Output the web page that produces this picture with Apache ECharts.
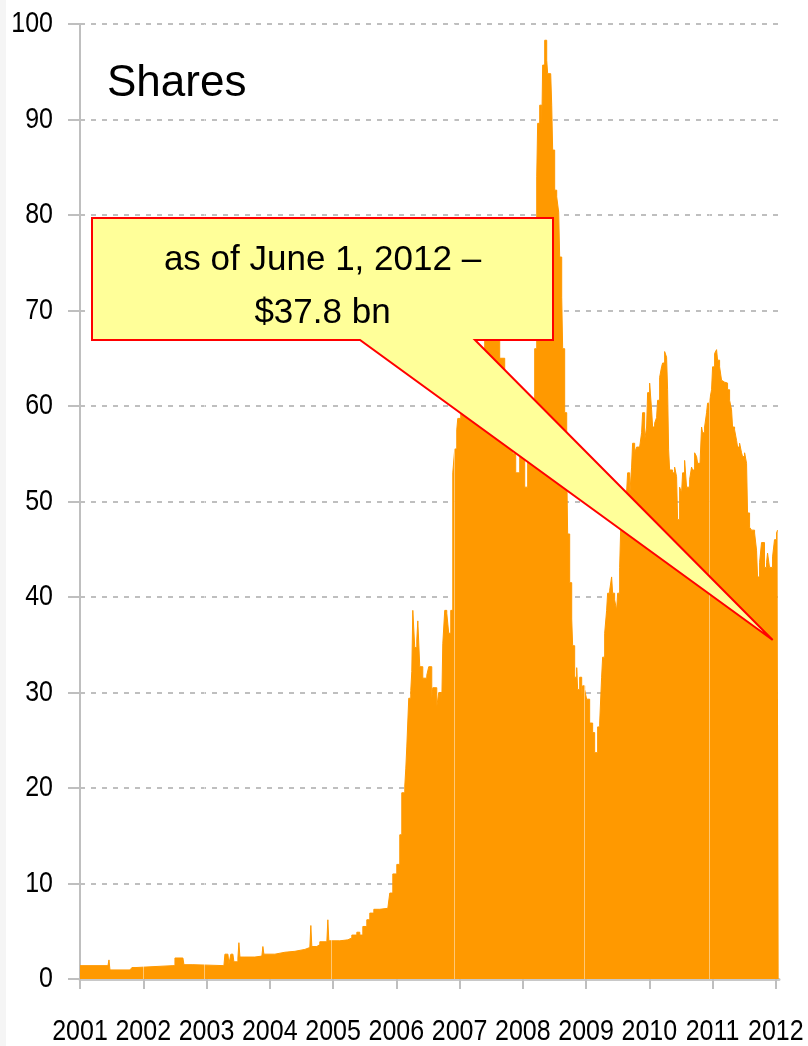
<!DOCTYPE html>
<html>
<head>
<meta charset="utf-8">
<script src="https://cdn.jsdelivr.net/npm/echarts@6/dist/echarts.min.js"></script>
<style>
html,body{margin:0;padding:0;background:#fff;}
#c{width:808px;height:1046px;}
</style>
</head>
<body>
<div id="c"></div>
<script>
// ---- data (decimal year, value in US$ bn) ----
const dates = [
2001.000,2001.442,2001.458,2001.474,2001.790,2001.821,2001.885,2002.469,2002.501,2002.627,
2002.643,2002.785,2002.801,2003.275,2003.291,2003.338,2003.354,2003.385,2003.417,2003.433,
2003.496,2003.512,2003.528,2003.607,2003.765,2003.875,2003.891,2003.907,2004.081,2004.239,
2004.397,2004.555,2004.633,2004.649,2004.665,2004.744,2004.791,2004.902,2004.918,2004.934,
2005.107,2005.234,2005.297,2005.376,2005.423,2005.471,2005.534,2005.581,2005.645,2005.739,
2005.866,2005.897,2005.945,2006.008,2006.055,2006.087,2006.134,2006.150,2006.166,2006.197,
2006.229,2006.245,2006.261,2006.292,2006.324,2006.340,2006.371,2006.419,2006.482,2006.513,
2006.561,2006.577,2006.640,2006.671,2006.719,2006.735,2006.766,2006.798,2006.829,2006.861,
2006.893,2006.924,2006.956,2006.972,2007.019,2007.082,2007.161,2007.288,2007.398,2007.477,
2007.556,2007.635,2007.714,2007.793,2007.840,2007.888,2007.951,2008.030,2008.077,2008.141,
2008.188,2008.220,2008.235,2008.267,2008.299,2008.314,2008.346,2008.378,2008.393,2008.441,
2008.457,2008.472,2008.504,2008.536,2008.567,2008.583,2008.615,2008.630,2008.662,2008.694,
2008.709,2008.741,2008.773,2008.788,2008.820,2008.852,2008.867,2008.899,2008.931,2008.946,
2008.978,2009.009,2009.057,2009.104,2009.136,2009.183,2009.215,2009.246,2009.262,2009.294,
2009.325,2009.341,2009.373,2009.404,2009.420,2009.452,2009.483,2009.499,2009.531,2009.547,
2009.594,2009.641,2009.657,2009.689,2009.720,2009.736,2009.768,2009.799,2009.847,2009.878,
2009.894,2009.926,2009.957,2009.973,2010.005,2010.036,2010.052,2010.084,2010.115,2010.131,
2010.163,2010.194,2010.210,2010.242,2010.273,2010.289,2010.305,2010.321,2010.368,2010.400,
2010.431,2010.447,2010.479,2010.510,2010.526,2010.558,2010.589,2010.605,2010.637,2010.668,
2010.684,2010.716,2010.747,2010.763,2010.795,2010.826,2010.842,2010.874,2010.905,2010.921,
2010.953,2010.984,2011.000,2011.032,2011.063,2011.079,2011.111,2011.142,2011.158,2011.190,
2011.221,2011.237,2011.269,2011.300,2011.316,2011.348,2011.379,2011.395,2011.427,2011.458,
2011.474,2011.506,2011.537,2011.553,2011.585,2011.616,2011.632,2011.664,2011.695,2011.711,
2011.743,2011.774,2011.790,2011.821,2011.853,2011.869,2011.900,2011.948,2011.979,2012.011,
2012.027,2012.045
];
const shares = [
1.4,1.4,2.0,0.95,0.95,1.2,1.4,1.4,2.2,2.2,
1.5,1.7,1.4,1.4,2.6,2.6,1.6,2.6,2.7,1.8,
2.2,3.8,2.3,2.3,2.4,2.5,3.4,2.6,2.8,2.9,
3.1,3.3,3.3,5.6,3.4,3.6,3.9,4.0,6.2,4.0,
4.1,4.3,4.6,4.9,4.6,5.5,6.2,6.9,7.3,7.4,
7.3,9.0,11.0,12.0,15.1,19.5,20.2,22.0,24.3,29.4,
30.2,32.2,38.6,34.7,35.5,37.5,32.7,31.5,31.8,32.7,
29.4,30.5,28.5,30.0,28.9,35.1,38.6,38.3,36.2,38.6,
53.0,55.5,57.5,58.7,60.0,61.5,63.0,66.0,68.0,67.5,
69.0,65.0,62.0,60.0,55.0,53.0,56.0,51.5,55.0,60.0,
66.0,84.0,89.6,91.5,88.7,95.7,98.3,96.2,94.8,94.8,
91.5,86.8,82.6,81.9,80.3,75.6,71.4,66.0,59.3,53.6,
46.6,41.5,37.7,34.9,31.6,32.6,30.3,31.6,29.3,30.7,
30.3,29.3,26.8,25.8,23.7,26.4,26.8,31.6,33.7,36.2,
38.6,40.4,40.7,42.1,40.4,39.7,38.6,40.4,43.1,47.0,
49.0,51.0,53.0,50.5,53.6,56.1,55.1,55.7,55.7,57.2,
59.3,56.4,57.8,61.4,62.4,59.6,57.8,58.2,58.8,60.6,
63.0,64.1,64.5,65.7,65.1,61.7,55.4,53.3,53.0,53.6,
52.6,48.1,51.5,50.9,53.0,54.3,51.5,51.5,52.3,53.6,
53.3,55.1,54.7,54.0,53.0,57.8,57.2,57.8,59.3,60.3,
60.6,61.7,64.1,65.5,65.9,64.8,64.1,62.7,62.5,62.7,
62.4,61.7,60.6,59.6,57.8,57.5,56.4,55.7,56.1,55.1,
54.7,55.1,54.0,48.8,47.3,47.0,47.0,46.7,44.9,42.1,
43.6,45.7,45.7,43.1,43.6,44.6,43.1,44.2,46.0,46.7,
47.0,47.0
];
const yearLabels = [2001,2002,2003,2004,2005,2006,2007,2008,2009,2010,2011,2012];
const yearGapLines = [2002.0, 2002.97, 2004.97, 2006.91, 2008.97, 2010.94];
const titleText = 'Shares';
const calloutText = 'as of June 1, 2012 –\n$37.8 bn';
const calloutTip = [2011.95, 35.5];

const chart = echarts.init(document.getElementById('c'), null, {renderer: 'canvas'});
const font = "'Liberation Sans', Arial, sans-serif";
const gray = '#BFBFBF';

chart.setOption({
  animation: false,
  backgroundColor: '#ffffff',
  grid: {left: 80, right: 29, top: 24, bottom: 67, containLabel: false, outerBoundsMode: 'none'},
  xAxis: {
    type: 'value', min: 2001, max: 2012.05,
    axisLine: {show: true, lineStyle: {color: '#C8C8C8', width: 3}},
    axisTick: {show: true, length: 10, customValues: yearLabels, lineStyle: {color: gray, width: 2}},
    axisLabel: {customValues: yearLabels, formatter: v => String(v), margin: 38,
      showMinLabel: true, showMaxLabel: true, hideOverlap: false,
      fontFamily: font, fontSize: 25, color: '#000'},
    splitLine: {show: false}
  },
  yAxis: {
    type: 'value', min: 0, max: 100, interval: 10,
    axisLine: {show: true, lineStyle: {color: gray, width: 2}},
    axisTick: {show: true, length: 12, lineStyle: {color: gray, width: 2}},
    axisLabel: {margin: 27, fontFamily: font, fontSize: 25, color: '#000'},
    splitLine: {show: true, lineStyle: {color: gray, width: 2, type: [5, 6]}}
  },
  series: [{
    type: 'line',
    data: dates.map((d, i) => [d, shares[i]]),
    step: 'end',
    showSymbol: false,
    symbol: 'none',
    lineStyle: {color: '#FF9900', width: 1},
    areaStyle: {color: '#FF9900', opacity: 1},
    markLine: {
      silent: true, symbol: 'none', label: {show: false},
      lineStyle: {color: '#ffffff', width: 1, type: 'solid', opacity: 0.45},
      data: yearGapLines.map(x => ({xAxis: x}))
    }
  }]
});

const tip = chart.convertToPixel({xAxisIndex: 0, yAxisIndex: 0}, calloutTip);
const bx0 = 92, bx1 = 553, by0 = 218, by1 = 340, px0 = 360, px1 = 475;
chart.setOption({
  graphic: [
    {type: 'rect', z: 100, shape: {x: 0, y: 0, width: 6, height: 1046}, style: {fill: '#F5F5F5'}},
    {type: 'text', z: 100, left: 107, top: 62, style: {text: titleText, font: '44px ' + font, fill: '#000'}},
    {type: 'polygon', z: 100,
      shape: {points: [[bx0, by0], [bx1, by0], [bx1, by1], [px1, by1], tip, [px0, by1], [bx0, by1]]},
      style: {fill: '#FFFF99', stroke: '#FF0000', lineWidth: 2, lineJoin: 'miter'}},
    {type: 'text', z: 101, x: (bx0 + bx1) / 2, y: 287,
      style: {text: calloutText, font: '35px ' + font, fill: '#000', align: 'center',
        verticalAlign: 'middle', lineHeight: 53}}
  ]
});

// The original axis labels use a condensed face: keep the narrow width, stretch the height.
(function tallLabels() {
  const zr = chart.getZr();
  const visit = el => {
    if (el.type === 'text' && el.style && /^\d{1,4}$/.test(String(el.style.text))) {
      el.scaleY = 1.2;
      el.markRedraw && el.markRedraw();
    }
    if (el.childrenRef) el.childrenRef().forEach(visit);
  };
  zr.storage.getRoots().forEach(visit);
  zr.refreshImmediately();
})();
</script>
</body>
</html>
